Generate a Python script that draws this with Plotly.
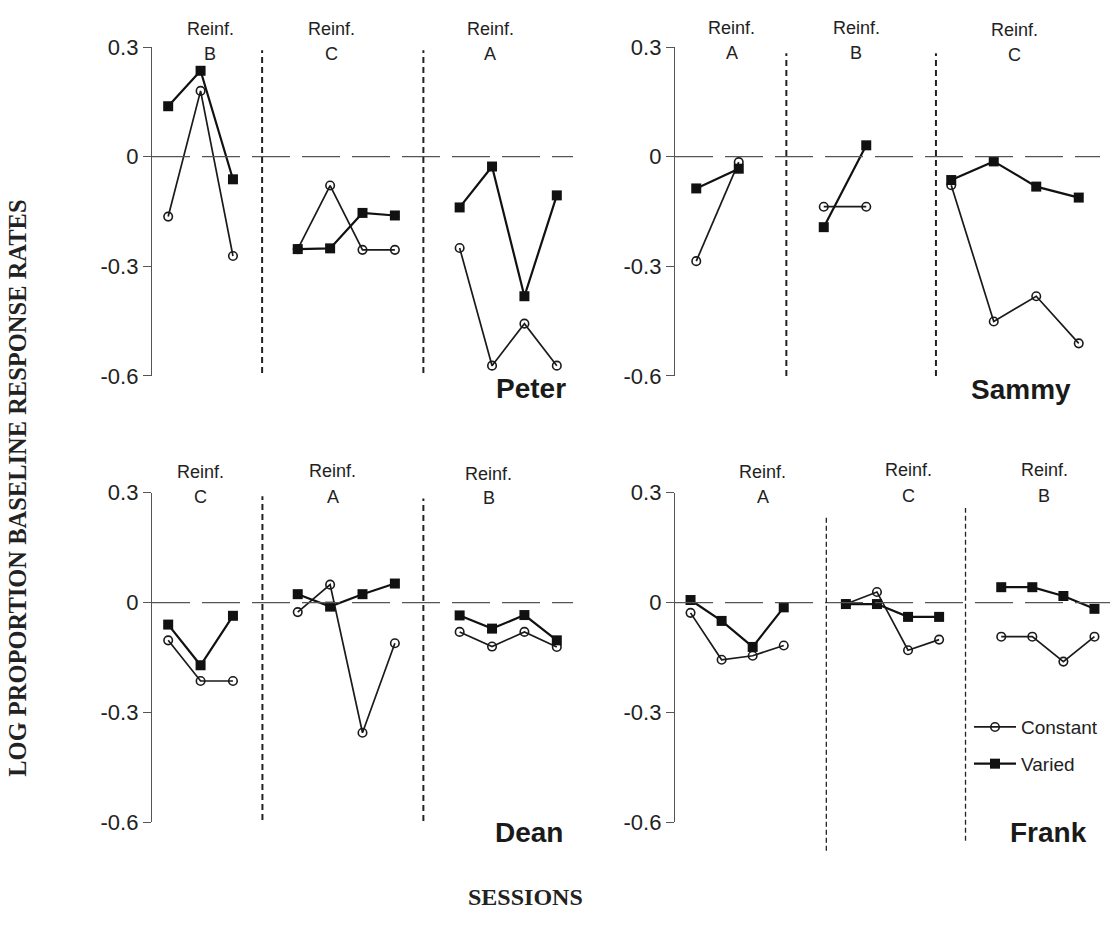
import plotly.graph_objects as go

W, H = 1118, 925

# ---------------- data ----------------
peter_x = [1, 2, 3, None, 5, 6, 7, 8, None, 10, 11, 12, 13]
peter_const = [-0.164, 0.180, -0.272, None, -0.253, -0.079, -0.255, -0.255, None, -0.250, -0.572, -0.457, -0.572]
peter_var = [0.138, 0.235, -0.062, None, -0.253, -0.251, -0.154, -0.161, None, -0.139, -0.027, -0.382, -0.106]
peter_phases = ["B", "C", "A"]
peter_phase_x = [2.3, 6.05, 10.95]
peter_breaks = [3.9, 8.88]

sammy_x = [1, 2, None, 4, 5, None, 7, 8, 9, 10]
sammy_const = [-0.286, -0.015, None, -0.137, -0.137, None, -0.078, -0.451, -0.382, -0.511]
sammy_var = [-0.087, -0.033, None, -0.193, 0.031, None, -0.064, -0.013, -0.082, -0.112]
sammy_phases = ["A", "B", "C"]
sammy_phase_x = [1.84, 4.77, 8.49]
sammy_breaks = [3.12, 6.64]

dean_x = [1, 2, 3, None, 5, 6, 7, 8, None, 10, 11, 12, 13]
dean_const = [-0.103, -0.214, -0.214, None, -0.026, 0.049, -0.355, -0.111, None, -0.080, -0.120, -0.080, -0.121]
dean_var = [-0.060, -0.171, -0.036, None, 0.023, -0.011, 0.023, 0.052, None, -0.035, -0.071, -0.034, -0.103]
dean_phases = ["C", "A", "B"]
dean_phase_x = [1.99, 6.08, 10.9]
dean_breaks = [3.91, 8.88]

frank_x = [1, 2, 3, 4, None, 6, 7, 8, 9, None, 11, 12, 13, 14]
frank_const = [-0.028, -0.156, -0.145, -0.117, None, -0.004, 0.029, -0.130, -0.101, None, -0.093, -0.093, -0.161, -0.093]
frank_var = [0.007, -0.050, -0.121, -0.013, None, -0.004, -0.004, -0.039, -0.039, None, 0.042, 0.042, 0.018, -0.017]
frank_phases = ["A", "C", "B"]
frank_phase_x = [3.33, 8.0, 12.39]
frank_breaks = [5.37, 9.85]

y_ticks = [0.3, 0, -0.3, -0.6]
y_tick_text = ["0.3", "0", "-0.3", "-0.6"]
Y_RANGE = [-0.6, 0.3]


def px_x(p):
    return p / W


def px_y(p):
    return 1 - p / H


SANS = "Liberation Sans, Arial, Helvetica, sans-serif"
SERIF = "Liberation Serif, Times New Roman, serif"

panels = [
    dict(name="Peter", x=peter_x, c=peter_const, v=peter_var, phases=peter_phases,
         phase_x=peter_phase_x, breaks=peter_breaks, xr=[0.5, 13.5],
         dx=(152, 573), dy=(374, 36), reinf_y=[17, 17, 17], letter_y=[43, 43, 43],
         vl=[(0.291, -0.592), (0.291, -0.592)], name_pos=(531, 387)),
    dict(name="Sammy", x=sammy_x, c=sammy_const, v=sammy_var, phases=sammy_phases,
         phase_x=sammy_phase_x, breaks=sammy_breaks, xr=[0.5, 10.5],
         dx=(675, 1100), dy=(374, 36), reinf_y=[16, 16, 18], letter_y=[42, 42, 44],
         vl=[(0.283, -0.6), (0.283, -0.6)], name_pos=(1021, 388)),
    dict(name="Dean", x=dean_x, c=dean_const, v=dean_var, phases=dean_phases,
         phase_x=dean_phase_x, breaks=dean_breaks, xr=[0.5, 13.5],
         dx=(152, 573), dy=(833, 494), reinf_y=[473, 472, 475], letter_y=[498, 498, 500],
         vl=[(0.29, -0.593), (0.284, -0.596)], name_pos=(529, 843)),
    dict(name="Frank", x=frank_x, c=frank_const, v=frank_var, phases=frank_phases,
         phase_x=frank_phase_x, breaks=frank_breaks, xr=[0.5, 14.5],
         dx=(675, 1110), dy=(833, 494), reinf_y=[473, 471, 471], letter_y=[498, 497, 497],
         vl=[(0.234, -0.677), (0.258, -0.65)], name_pos=(1048, 843)),
]

fig = go.Figure()
shapes = []
annotations = []
layout_axes = {}

for i, p in enumerate(panels):
    n = "" if i == 0 else str(i + 1)
    xref, yref = "x" + n, "y" + n
    layout_axes["xaxis" + n] = dict(
        domain=[px_x(p["dx"][0]), px_x(p["dx"][1])], range=p["xr"], visible=False,
        anchor=yref, showgrid=False, zeroline=False, fixedrange=True)
    layout_axes["yaxis" + n] = dict(
        domain=[px_y(p["dy"][0]), px_y(p["dy"][1])], range=Y_RANGE, anchor=xref,
        tickvals=y_ticks, ticktext=y_tick_text, showline=True, linecolor="#555",
        linewidth=1.3, ticks="outside", ticklen=8, tickwidth=1.3, tickcolor="#555",
        showgrid=False, zeroline=False, fixedrange=True,
        tickfont=dict(family=SANS, size=22, color="#222"))

    show = p["name"] == "Frank"
    fig.add_trace(go.Scatter(
        x=p["x"], y=p["c"], mode="lines+markers", name="Constant", legendgroup="c",
        showlegend=show, xaxis=xref, yaxis=yref, cliponaxis=False,
        line=dict(color="#1a1a1a", width=1.7),
        marker=dict(symbol="circle-open", size=8.5, color="#1a1a1a", line=dict(width=1.6))))
    fig.add_trace(go.Scatter(
        x=p["x"], y=p["v"], mode="lines+markers", name="Varied", legendgroup="v",
        showlegend=show, xaxis=xref, yaxis=yref, cliponaxis=False,
        line=dict(color="#111", width=2.2),
        marker=dict(symbol="square", size=10, color="#111")))

    # zero reference line
    shapes.append(dict(type="line", xref=xref, yref=yref, x0=p["xr"][0], x1=p["xr"][1],
                       y0=0, y1=0, line=dict(color="#555", width=1.4, dash="38px,12px")))
    # phase-change lines
    thin = p["name"] == "Frank"
    for b, (top, bot) in zip(p["breaks"], p["vl"]):
        shapes.append(dict(type="line", xref=xref, yref=yref + " domain", x0=b, x1=b,
                           y0=(bot - Y_RANGE[0]) / (Y_RANGE[1] - Y_RANGE[0]),
                           y1=(top - Y_RANGE[0]) / (Y_RANGE[1] - Y_RANGE[0]),
                           line=dict(color="#222", width=1.3 if thin else 2,
                                     dash="5px,3px" if thin else "6px,4px")))
    # phase labels
    for lab, lx, ry, ly in zip(p["phases"], p["phase_x"], p["reinf_y"], p["letter_y"]):
        annotations.append(dict(text="Reinf.", x=lx, xref=xref, y=px_y(ry), yref="paper",
                                showarrow=False, xanchor="center", yanchor="middle",
                                font=dict(family=SANS, size=18, color="#222")))
        annotations.append(dict(text=lab, x=lx, xref=xref, y=px_y(ly), yref="paper",
                                showarrow=False, xanchor="center", yanchor="middle",
                                font=dict(family=SANS, size=18, color="#222")))
    annotations.append(dict(text="<b>%s</b>" % p["name"], x=px_x(p["name_pos"][0]), xref="paper",
                            y=px_y(p["name_pos"][1]), yref="paper", showarrow=False,
                            xanchor="center", yanchor="middle",
                            font=dict(family=SANS, size=28, color="#1a1a1a")))

annotations.append(dict(text="<b>LOG PROPORTION BASELINE RESPONSE RATES</b>", x=px_x(18), y=px_y(490),
                        xref="paper", yref="paper", textangle=-90, showarrow=False,
                        xanchor="center", yanchor="middle",
                        font=dict(family=SERIF, size=24.5, color="#222")))
annotations.append(dict(text="<b>SESSIONS</b>", x=px_x(525), y=px_y(910), xref="paper", yref="paper",
                        showarrow=False, xanchor="center", yanchor="middle",
                        font=dict(family=SERIF, size=24, color="#222")))

fig.update_layout(
    width=W, height=H, autosize=False,
    margin=dict(l=0, r=0, t=0, b=0),
    paper_bgcolor="white", plot_bgcolor="white",
    shapes=shapes, annotations=annotations,
    showlegend=True,
    legend=dict(x=px_x(969), y=px_y(754), xanchor="left", yanchor="middle",
                traceorder="grouped", tracegroupgap=9, bgcolor="rgba(0,0,0,0)",
                itemwidth=42,
                font=dict(family=SANS, size=19, color="#222"), itemclick=False),
    **layout_axes,
)

fig.write_html("out.html", config={"displayModeBar": False},
               post_script="document.body.style.margin='0';document.body.style.overflow='hidden';")
